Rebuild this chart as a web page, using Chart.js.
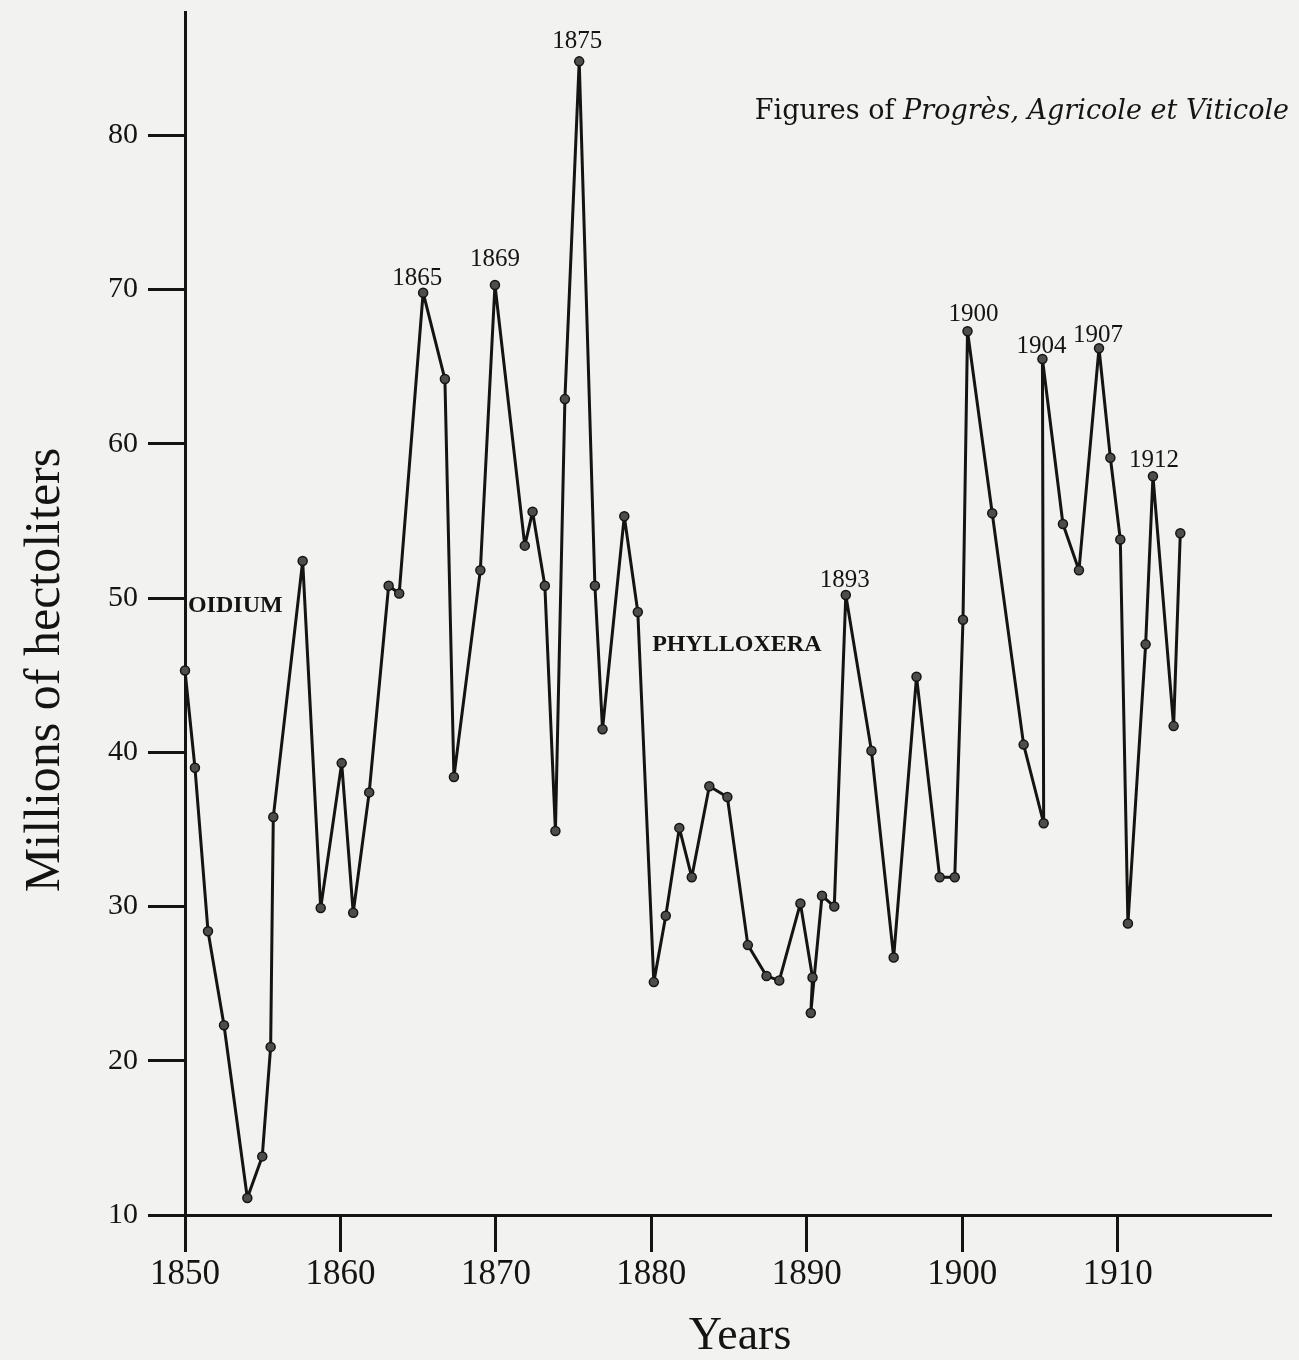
<!DOCTYPE html>
<html>
<head>
<meta charset="utf-8">
<title>Wine production in France, 1850-1914</title>
<script src="https://cdn.jsdelivr.net/npm/chart.js@4.4.1/dist/chart.umd.min.js"></script>
<style>
    html, body { margin: 0; padding: 0; background: #f2f2f0; }
    canvas { display: block; }
</style>
</head>
<body>
<canvas id="vinChart" width="1299" height="1360"></canvas>
<script>
// Years as plotted: the original is hand drawn, so the points do not sit exactly on whole years
const years = [
    1850.00, 1850.64, 1851.48, 1852.51, 1854.01, 1854.97, 1855.51, 1855.68, 1857.57, 1858.73,
    1860.08, 1860.82, 1861.85, 1863.10, 1863.78, 1865.32, 1866.72, 1867.30, 1869.00, 1869.94,
    1871.86, 1872.36, 1873.15, 1873.83, 1874.44, 1875.36, 1876.37, 1876.86, 1878.26, 1879.13,
    1880.16, 1880.93, 1881.80, 1882.60, 1883.73, 1884.89, 1886.21, 1887.41, 1888.23, 1889.59,
    1890.37, 1890.26, 1890.98, 1891.77, 1892.51, 1894.16, 1895.59, 1897.06, 1898.55, 1899.52,
    1900.05, 1900.34, 1901.93, 1903.95, 1905.24, 1905.16, 1906.48, 1907.51, 1908.80, 1909.53,
    1910.17, 1910.66, 1911.80, 1912.27, 1913.60, 1914.03
];
// Millions of hectoliters
const hectoliters = [
    45.3, 39.0, 28.4, 22.3, 11.1, 13.8, 20.9, 35.8, 52.4, 29.9,
    39.3, 29.6, 37.4, 50.8, 50.3, 69.8, 64.2, 38.4, 51.8, 70.3,
    53.4, 55.6, 50.8, 34.9, 62.9, 84.8, 50.8, 41.5, 55.3, 49.1,
    25.1, 29.4, 35.1, 31.9, 37.8, 37.1, 27.5, 25.5, 25.2, 30.2,
    25.4, 23.1, 30.7, 30.0, 50.2, 40.1, 26.7, 44.9, 31.9, 31.9,
    48.6, 67.3, 55.5, 40.5, 35.4, 65.5, 54.8, 51.8, 66.2, 59.1,
    53.8, 28.9, 47.0, 57.9, 41.7, 54.2
];
const xTicks = [1850, 1860, 1870, 1880, 1890, 1900, 1910];
const yTicks = [10, 20, 30, 40, 50, 60, 70, 80];

// peak labels, tied to the point they name (index into the arrays above)
const peakLabels = ['1865', '1869', '1875', '1893', '1900', '1904', '1907', '1912'];
const peakIndex  = [15, 19, 25, 44, 51, 55, 58, 63];

const INK = '#141414';
const SERIF = '"Liberation Serif", "Times New Roman", serif';
const WIDE_SERIF = '"DejaVu Serif", "Liberation Serif", serif';

// pixel nudges for the peak labels, same order as peakLabels
const peakNudge = [[-6, -14], [0, -26], [-2, -20], [-1, -15], [6, -17], [-1, -13], [-1, -13], [1, -16]];

const fondoPapel = {
    id: 'fondoPapel',
    beforeDraw(chart) {
        const ctx = chart.ctx;
        ctx.save();
        ctx.fillStyle = '#f2f2f0';
        ctx.fillRect(0, 0, chart.width, chart.height);
        ctx.restore();
    }
};

const textos = {
    id: 'textos',
    afterDraw(chart) {
        const ctx = chart.ctx;
        const sx = chart.scales.x;
        const sy = chart.scales.y;
        ctx.save();
        ctx.fillStyle = INK;
        ctx.textBaseline = 'middle';

        // peak years
        ctx.font = '25px ' + SERIF;
        ctx.textAlign = 'center';
        peakLabels.forEach((txt, k) => {
            const i = peakIndex[k];
            const px = sx.getPixelForValue(years[i]) + peakNudge[k][0];
            const py = sy.getPixelForValue(hectoliters[i]) + peakNudge[k][1];
            ctx.fillText(txt, px, py);
        });

        // disease names
        ctx.font = 'bold 24px ' + SERIF;
        ctx.textAlign = 'left';
        ctx.fillText('OIDIUM', sx.getPixelForValue(1850.19), sy.getPixelForValue(49.5));
        ctx.textAlign = 'center';
        ctx.fillText('PHYLLOXERA', sx.getPixelForValue(1885.5), sy.getPixelForValue(47.0));

        // source note, upright then italic
        ctx.textAlign = 'left';
        let fx = sx.getPixelForValue(1886.66);
        const fy = sy.getPixelForValue(81.5);
        ctx.font = '27px ' + WIDE_SERIF;
        const part1 = 'Figures of ';
        ctx.fillText(part1, fx, fy);
        fx += ctx.measureText(part1).width;
        ctx.font = 'italic 27px ' + WIDE_SERIF;
        ctx.fillText('Progrès, Agricole et Viticole', fx, fy);

        // axis titles
        ctx.font = '46px ' + SERIF;
        ctx.textAlign = 'center';
        ctx.fillText('Years', 740, 1337);
        ctx.translate(46, 670);
        ctx.rotate(-Math.PI / 2);
        ctx.font = '50px ' + SERIF;
        ctx.fillText('Millions of hectoliters', 0, 0);
        ctx.restore();
    }
};

const ctx = document.getElementById('vinChart').getContext('2d');
new Chart(ctx, {
    type: 'line',
    data: {
        datasets: [{
            label: 'Wine production',
            data: years.map((yr, i) => ({ x: yr, y: hectoliters[i] })),
            borderColor: INK,
            borderWidth: 3,
            borderJoinStyle: 'round',
            tension: 0,
            pointRadius: 4.5,
            pointBackgroundColor: '#4d4d4d',
            pointBorderColor: INK,
            pointBorderWidth: 1.5,
            clip: false
        }]
    },
    options: {
        responsive: false,
        animation: false,
        devicePixelRatio: 1,
        layout: { padding: { top: 12, right: 29, left: 0, bottom: 0 } },
        plugins: { legend: { display: false }, tooltip: { enabled: false } },
        scales: {
            x: {
                type: 'linear',
                min: 1850,
                max: 1919.8,
                afterBuildTicks: s => { s.ticks = xTicks.map(v => ({ value: v })); },
                afterFit: s => { s.height = 145; s.paddingLeft = 0; s.paddingRight = 0; },
                grid: { drawOnChartArea: false, tickLength: 37, color: INK, lineWidth: 3 },
                border: { display: true, color: INK, width: 3 },
                ticks: {
                    font: { family: SERIF, size: 35 },
                    color: INK,
                    padding: 2,
                    maxRotation: 0,
                    autoSkip: false,
                    callback: v => String(v)
                }
            },
            y: {
                type: 'linear',
                min: 10,
                max: 88,
                afterBuildTicks: s => { s.ticks = yTicks.map(v => ({ value: v })); },
                afterFit: s => { s.width = 185; s.paddingTop = 0; s.paddingBottom = 0; },
                grid: { drawOnChartArea: false, tickLength: 37, color: INK, lineWidth: 3 },
                border: { display: true, color: INK, width: 3 },
                ticks: {
                    font: { family: SERIF, size: 30 },
                    color: INK,
                    padding: 10,
                    autoSkip: false,
                    callback: v => String(v)
                }
            }
        }
    },
    plugins: [fondoPapel, textos]
});
</script>
</body>
</html>
